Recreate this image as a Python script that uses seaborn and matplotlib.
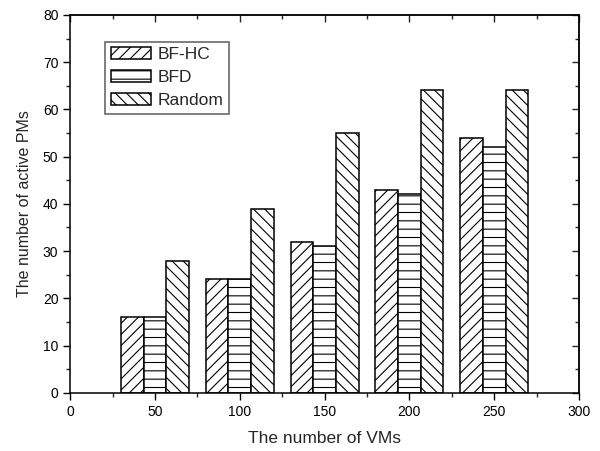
import pandas as pd
import matplotlib
matplotlib.use("Agg")
import matplotlib.pyplot as plt
from matplotlib.ticker import MultipleLocator
import seaborn as sns

# Datos
vms = [50, 100, 150, 200, 250]
bf_hc = [16, 24, 32, 43, 54]
bfd = [16, 24, 31, 42, 52]
random_pms = [28, 39, 55, 64, 64]
methods = ["BF-HC", "BFD", "Random"]
hatches = ["///", "--", "\\\\\\"]

df = pd.DataFrame({
    "VMs": vms * 3,
    "PMs": bf_hc + bfd + random_pms,
    "Method": [m for m in methods for _ in vms],
})

sns.set_style("ticks")
plt.rcParams["font.family"] = ["Liberation Sans", "DejaVu Sans"]
plt.rcParams["hatch.linewidth"] = 0.8

fig, ax = plt.subplots(figsize=(6, 4.51), dpi=100)
fig.subplots_adjust(left=0.117, right=0.965, top=0.967, bottom=0.129)

sns.barplot(data=df, x="VMs", y="PMs", hue="Method", native_scale=True,
            palette=["white"] * 3, edgecolor="black", linewidth=1.1,
            width=0.8, legend=False, ax=ax)

# Rellenos con tramas
for cont, h in zip(ax.containers, hatches):
    for bar in cont:
        bar.set_hatch(h)
        bar.set_facecolor("white")
        bar.set_edgecolor("black")

ax.set_xlim(0, 300)
ax.set_ylim(0, 80)
ax.xaxis.set_major_locator(MultipleLocator(50))
ax.xaxis.set_minor_locator(MultipleLocator(25))
ax.yaxis.set_major_locator(MultipleLocator(10))
ax.yaxis.set_minor_locator(MultipleLocator(5))
ax.tick_params(which="major", direction="out", length=5, width=1, labelsize=10, colors="black")
ax.tick_params(which="minor", direction="out", length=3, width=1)
for s in ax.spines.values():
    s.set_linewidth(1.1)
    s.set_color("black")

# Ticks hacia dentro arriba y a la derecha
secx = ax.secondary_xaxis("top")
secx.xaxis.set_major_locator(MultipleLocator(50))
secx.xaxis.set_minor_locator(MultipleLocator(25))
secx.tick_params(which="major", direction="in", length=5, width=1, labeltop=False)
secx.tick_params(which="minor", direction="in", length=3, width=1)
secx.spines["top"].set_linewidth(1.1)
secy = ax.secondary_yaxis("right")
secy.yaxis.set_major_locator(MultipleLocator(10))
secy.yaxis.set_minor_locator(MultipleLocator(5))
secy.tick_params(which="major", direction="in", length=5, width=1, labelright=False)
secy.tick_params(which="minor", direction="in", length=3, width=1)
secy.spines["right"].set_linewidth(1.1)

ax.set_xlabel("The number of VMs", fontsize=12.5, labelpad=9)
ax.set_ylabel("The number of active PMs", fontsize=11.5, labelpad=8)

leg = ax.legend(ax.containers, methods, loc="upper left", bbox_to_anchor=(0.069, 0.928),
                borderaxespad=0, fontsize=12.5, frameon=True, fancybox=False,
                handlelength=2.35, handleheight=0.7, handletextpad=0.38,
                labelspacing=0.45, borderpad=0.3)
leg.get_frame().set_edgecolor("#444444")
leg.get_frame().set_linewidth(1.2)

plt.savefig("out.png", dpi=100)
